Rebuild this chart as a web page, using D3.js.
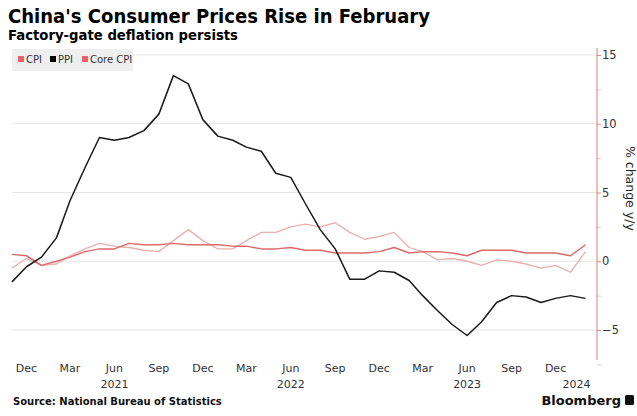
<!DOCTYPE html>
<html>
<head>
<meta charset="utf-8">
<script src="https://cdn.jsdelivr.net/npm/d3@7"></script>
<style>
  html, body { margin: 0; padding: 0; background: #fff; }
  svg { display: block; font-family: "DejaVu Sans", Verdana, sans-serif; }
</style>
</head>
<body>
<svg id="chart" width="637" height="416"></svg>
<script>
// Monthly year-over-year changes, Nov 2020 – Feb 2024
const months = [
  "2020-11","2020-12",
  "2021-01","2021-02","2021-03","2021-04","2021-05","2021-06","2021-07","2021-08","2021-09","2021-10","2021-11","2021-12",
  "2022-01","2022-02","2022-03","2022-04","2022-05","2022-06","2022-07","2022-08","2022-09","2022-10","2022-11","2022-12",
  "2023-01","2023-02","2023-03","2023-04","2023-05","2023-06","2023-07","2023-08","2023-09","2023-10","2023-11","2023-12",
  "2024-01","2024-02"
];
const cpi = [
  -0.5, 0.2,
  -0.3, -0.2, 0.4, 0.9, 1.3, 1.1, 1.0, 0.8, 0.7, 1.5, 2.3, 1.5,
  0.9, 0.9, 1.5, 2.1, 2.1, 2.5, 2.7, 2.5, 2.8, 2.1, 1.6, 1.8,
  2.1, 1.0, 0.7, 0.1, 0.2, 0.0, -0.3, 0.1, 0.0, -0.2, -0.5, -0.3,
  -0.8, 0.7
];
const ppi = [
  -1.5, -0.4,
  0.3, 1.7, 4.4, 6.8, 9.0, 8.8, 9.0, 9.5, 10.7, 13.5, 12.9, 10.3,
  9.1, 8.8, 8.3, 8.0, 6.4, 6.1, 4.2, 2.3, 0.9, -1.3, -1.3, -0.7,
  -0.8, -1.4, -2.5, -3.6, -4.6, -5.4, -4.4, -3.0, -2.5, -2.6, -3.0, -2.7,
  -2.5, -2.7
];
const coreCpi = [
  0.5, 0.4,
  -0.3, 0.0, 0.3, 0.7, 0.9, 0.9, 1.3, 1.2, 1.2, 1.3, 1.2, 1.2,
  1.2, 1.1, 1.1, 0.9, 0.9, 1.0, 0.8, 0.8, 0.6, 0.6, 0.6, 0.7,
  1.0, 0.6, 0.7, 0.7, 0.6, 0.4, 0.8, 0.8, 0.8, 0.6, 0.6, 0.6,
  0.4, 1.2
];
const yTicks = [-5, 0, 5, 10, 15];
const monthTickLabels = ["Dec","Mar","Jun","Sep","Dec","Mar","Jun","Sep","Dec","Mar","Jun","Sep","Dec"];
const yearLabels = ["2021", "2022", "2023", "2024"];

const parse = d3.timeParse("%Y-%m");
const dates = months.map(parse);

const svg = d3.select("#chart");
const plot = { left: 12, right: 597, top: 48, bottom: 360 };

const x = d3.scaleTime()
  .domain([dates[0], dates[dates.length - 1]])
  .range([12, 585.5]);
const y = d3.scaleLinear().domain([-5, 15]).range([330, 55]);

// Titles
svg.append("text").attr("x", 8).attr("y", 23)
  .attr("font-size", 19.5).attr("font-weight", "bold").attr("fill", "#000")
  .attr("textLength", 422).attr("lengthAdjust", "spacingAndGlyphs")
  .text("China's Consumer Prices Rise in February");
svg.append("text").attr("x", 8).attr("y", 40)
  .attr("font-size", 13.5).attr("font-weight", "bold").attr("fill", "#000")
  .attr("textLength", 230).attr("lengthAdjust", "spacingAndGlyphs")
  .text("Factory-gate deflation persists");

// Horizontal gridlines
svg.append("g").selectAll("line").data(yTicks).join("line")
  .attr("x1", plot.left).attr("x2", plot.right)
  .attr("y1", d => y(d)).attr("y2", d => y(d))
  .attr("stroke", "#e6e6e6").attr("stroke-width", 1);

// Right value axis, with minor ticks halfway between labels
const yAxis = d3.axisRight(y)
  .tickValues(d3.range(-7.5, 15.1, 2.5))
  .tickSize(4)
  .tickFormat(d => yTicks.includes(d) ? d3.format("d")(d) : "");
const gy = svg.append("g").attr("transform", `translate(${plot.right},0)`).call(yAxis);
gy.select(".domain").remove();
gy.selectAll(".tick line").attr("stroke", d => yTicks.includes(d) ? "#e08a8a" : "#f0c8c8");
gy.selectAll(".tick text")
  .attr("x", 5).attr("fill", "#333").attr("font-size", 11.5)
  .attr("font-family", "\"DejaVu Sans\", Verdana, sans-serif");
svg.append("line")
  .attr("x1", plot.right).attr("x2", plot.right)
  .attr("y1", plot.top).attr("y2", plot.bottom)
  .attr("stroke", "#e07a7a").attr("stroke-width", 1);

svg.append("text")
  .attr("transform", `translate(626,${y(5.3)}) rotate(90)`)
  .attr("text-anchor", "middle")
  .attr("font-size", 12.5).attr("fill", "#222")
  .text("% change y/y");

// Lines
const line = vals => d3.line()
  .x((d, i) => x(dates[i]))
  .y(d => y(d))(vals);

svg.append("path").attr("d", line(cpi))
  .attr("fill", "none").attr("stroke", "#eab0b0").attr("stroke-width", 1.3)
  .attr("stroke-linejoin", "round");
svg.append("path").attr("d", line(coreCpi))
  .attr("fill", "none").attr("stroke", "#dc6a6a").attr("stroke-width", 1.5)
  .attr("stroke-linejoin", "round");
svg.append("path").attr("d", line(ppi))
  .attr("fill", "none").attr("stroke", "#1a1a1a").attr("stroke-width", 1.5)
  .attr("stroke-linejoin", "round");

// Legend
const legend = svg.append("g");
legend.append("rect").attr("x", 12).attr("y", 49).attr("width", 121).attr("height", 22)
  .attr("fill", "#efefef");
const legendItems = [
  { name: "CPI", color: "#f0606a", x: 18 },
  { name: "PPI", color: "#000", x: 50 },
  { name: "Core CPI", color: "#f0606a", x: 82 }
];
legendItems.forEach(it => {
  legend.append("rect").attr("x", it.x).attr("y", 56).attr("width", 6).attr("height", 6).attr("fill", it.color);
  legend.append("text").attr("x", it.x + 8).attr("y", 63)
    .attr("font-size", 10).attr("fill", "#333").text(it.name);
});

// X-axis labels: every third month, with year labels beneath
const tickDates = d3.timeMonth.range(parse("2020-12"), parse("2024-01"), 1)
  .filter((d, i) => i % 3 === 0);
svg.append("g").selectAll("text").data(tickDates).join("text")
  .attr("x", d => x(d)).attr("y", 372)
  .attr("text-anchor", "middle").attr("font-size", 11).attr("fill", "#333")
  .text((d, i) => monthTickLabels[i]);

const yearPos = [parse("2021-06"), parse("2022-06"), parse("2023-06"), parse("2024-01")];
svg.append("g").selectAll("text").data(yearLabels).join("text")
  .attr("x", (d, i) => x(yearPos[i]) + (i === 3 ? 6 : 0)).attr("y", 388)
  .attr("text-anchor", "middle").attr("font-size", 11).attr("fill", "#333")
  .text(d => d);

// Footer
svg.append("text").attr("x", 13).attr("y", 405)
  .attr("font-size", 10).attr("font-weight", "bold").attr("fill", "#111")
  .text("Source: National Bureau of Statistics");
svg.append("text").attr("x", 621).attr("y", 405)
  .attr("text-anchor", "end")
  .attr("font-size", 13).attr("font-weight", "bold").attr("fill", "#111")
  .text("Bloomberg");
svg.append("rect").attr("x", 625).attr("y", 395).attr("width", 9).attr("height", 10)
  .attr("rx", 1.5).attr("fill", "#111");
</script>
</body>
</html>
